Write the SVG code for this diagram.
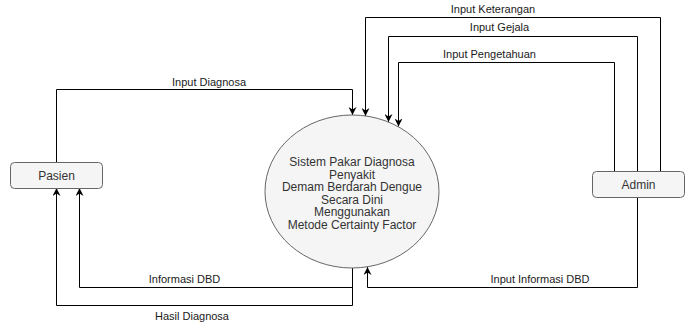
<svg xmlns="http://www.w3.org/2000/svg" width="689" height="324" viewBox="0 0 689 324">
  <style>
    .box { fill: #f5f5f5; stroke: #666666; stroke-width: 1; }
    .node-text { font-family: "Liberation Sans", Arial, Helvetica, sans-serif; font-size: 12px; fill: #333333; text-anchor: middle; }
    .flow { fill: none; stroke: #000000; stroke-width: 1; marker-end: url(#arrow); }
    .label { font-family: "Liberation Sans", Arial, Helvetica, sans-serif; font-size: 11px; fill: #1a1a1a; text-anchor: middle; }
  </style>
  <defs>
    <marker id="arrow" viewBox="0 0 10 10" refX="10" refY="5" markerWidth="8" markerHeight="8" markerUnits="userSpaceOnUse" orient="auto">
      <path d="M0,0 L10,5 L0,10 L3,5 Z" fill="#000000"/>
    </marker>
  </defs>
  <rect width="689" height="324" fill="#ffffff"/>

  <g id="connectors">
    <!-- Pasien -> Sistem -->
    <path class="flow" d="M56.5,162 V89.5 H352.5 V115"/>
    <!-- Admin -> Sistem -->
    <path class="flow" d="M660.5,171 V17.5 H365.5 V116"/>
    <path class="flow" d="M637.5,171 V36.5 H388.5 V122"/>
    <path class="flow" d="M614.5,171 V62.5 H398.5 V126.5"/>
    <path class="flow" d="M637.5,197 V287.5 H367.5 V267"/>
    <!-- Sistem -> Pasien -->
    <path class="flow" d="M352.5,268 V287.5 H79.5 V188"/>
    <path class="flow" d="M352.5,268 V305.5 H56.5 V188"/>

    <text class="label" x="209" y="85.5">Input Diagnosa</text>
    <text class="label" x="493" y="13">Input Keterangan</text>
    <text class="label" x="499.5" y="31">Input Gejala</text>
    <text class="label" x="489.5" y="58">Input Pengetahuan</text>
    <text class="label" x="184.5" y="283">Informasi DBD</text>
    <text class="label" x="540" y="283">Input Informasi DBD</text>
    <text class="label" x="192" y="320">Hasil Diagnosa</text>
  </g>

  <g id="sistem">
    <ellipse class="box" cx="352" cy="191.5" rx="87" ry="76.5"/>
    <text class="node-text" x="352" y="166">Sistem Pakar Diagnosa</text>
    <text class="node-text" x="352" y="178.6">Penyakit</text>
    <text class="node-text" x="352" y="191.2">Demam Berdarah Dengue</text>
    <text class="node-text" x="352" y="203.8">Secara Dini</text>
    <text class="node-text" x="352" y="216.4">Menggunakan</text>
    <text class="node-text" x="352" y="229">Metode Certainty Factor</text>
  </g>

  <g id="pasien">
    <rect class="box" x="10.5" y="162.5" width="92" height="26" rx="4"/>
    <text class="node-text" x="56.5" y="179.5">Pasien</text>
  </g>

  <g id="admin">
    <rect class="box" x="592.5" y="171.5" width="92" height="26" rx="4"/>
    <text class="node-text" x="638.5" y="188.5">Admin</text>
  </g>
</svg>
